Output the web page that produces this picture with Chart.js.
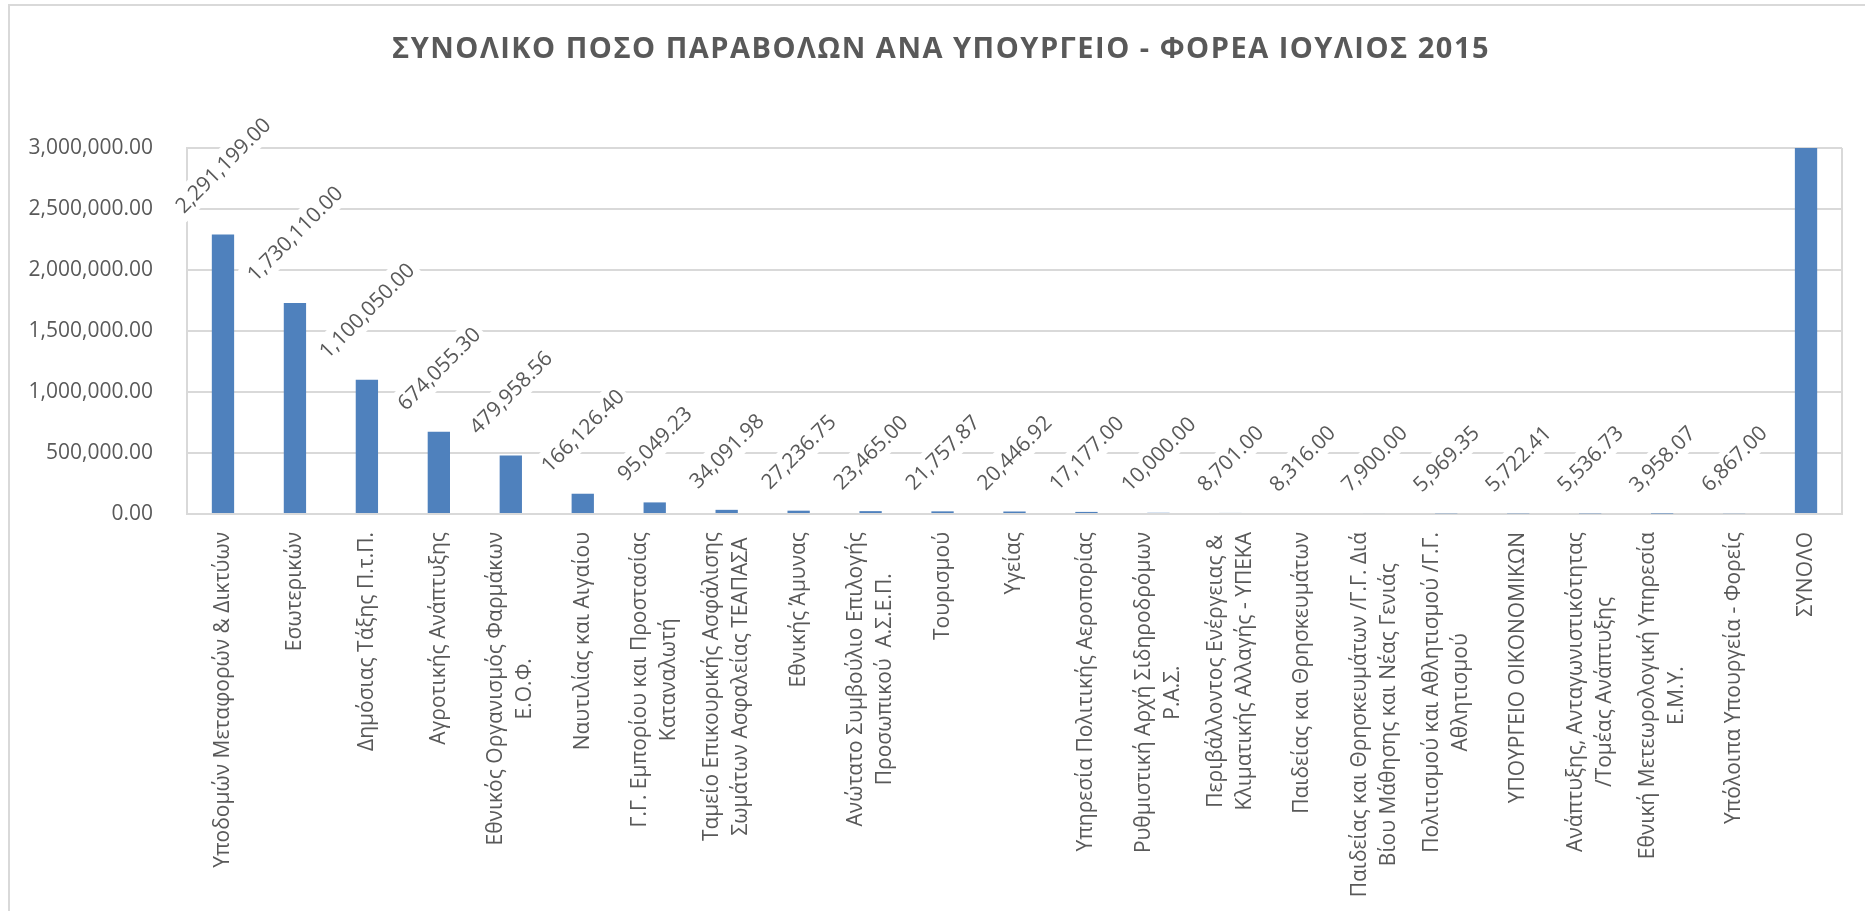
<!DOCTYPE html>
<html><head><meta charset="utf-8">
<script src="https://cdn.jsdelivr.net/npm/chart.js@4.4.0/dist/chart.umd.min.js"></script>
<style>html,body{margin:0;padding:0;background:#fff;overflow:hidden}</style>
</head><body>
<canvas id="c" width="1865" height="911"></canvas>
<script>
const TITLE = "ΣΥΝΟΛΙΚΟ ΠΟΣΟ ΠΑΡΑΒΟΛΩΝ ΑΝΑ ΥΠΟΥΡΓΕΙΟ - ΦΟΡΕΑ ΙΟΥΛΙΟΣ 2015";

const categories = [
  "Υποδομών Μεταφορών & Δικτύων",
  "Εσωτερικών",
  "Δημόσιας Τάξης Π.τ.Π.",
  "Αγροτικής Ανάπτυξης",
  ["Εθνικός Οργανισμός Φαρμάκων", "Ε.Ο.Φ."],
  "Ναυτιλίας και Αιγαίου",
  ["Γ.Γ. Εμπορίου και Προστασίας", "Καταναλωτή"],
  ["Ταμείο Επικουρικής Ασφάλισης", "Σωμάτων Ασφαλείας ΤΕΑΠΑΣΑ"],
  "Εθνικής Άμυνας",
  ["Ανώτατο Συμβούλιο Επιλογής", "Προσωπικού  Α.Σ.Ε.Π."],
  "Τουρισμού",
  "Υγείας",
  "Υπηρεσία Πολιτικής Αεροπορίας",
  ["Ρυθμιστική Αρχή Σιδηροδρόμων", "Ρ.Α.Σ."],
  ["Περιβάλλοντος Ενέργειας &", "Κλιματικής Αλλαγής - ΥΠΕΚΑ"],
  "Παιδείας και Θρησκευμάτων",
  ["Παιδείας και Θρησκευμάτων /Γ.Γ. Διά", "Βίου Μάθησης και Νέας Γενιάς"],
  ["Πολιτισμού και Αθλητισμού /Γ.Γ.", "Αθλητισμού"],
  "ΥΠΟΥΡΓΕΙΟ ΟΙΚΟΝΟΜΙΚΩΝ",
  ["Ανάπτυξης, Ανταγωνιστικότητας", "/Τομέας Ανάπτυξης"],
  ["Εθνική Μετεωρολογική Υπηρεσία", "Ε.Μ.Υ."],
  "Υπόλοιπα Υπουργεία - Φορείς",
  "ΣΥΝΟΛΟ"
];

const values = [
  2291199.00, 1730110.00, 1100050.00, 674055.30, 479958.56, 166126.40,
  95049.23, 34091.98, 27236.75, 23465.00, 21757.87, 20446.92, 17177.00,
  10000.00, 8701.00, 8316.00, 7900.00, 5969.35, 5722.41, 5536.73,
  3958.07, 6867.00, 6743694.57
];

const yTickValues = [0, 500000, 1000000, 1500000, 2000000, 2500000, 3000000];
const yTickLabels = ["0.00", "500,000.00", "1,000,000.00", "1,500,000.00", "2,000,000.00", "2,500,000.00", "3,000,000.00"];

const FONT = "'Open Sans', sans-serif";
const GREY = '#595959';
const LINE = '#d9d9d9';
const fmt = v => v.toLocaleString('en-US', {minimumFractionDigits: 2, maximumFractionDigits: 2});

const deco = {
  id: 'deco',
  beforeDraw(chart) {
    const ctx = chart.ctx;
    ctx.save();
    ctx.fillStyle = '#fff';
    ctx.fillRect(0, 0, chart.width, chart.height);
    ctx.strokeStyle = LINE; ctx.lineWidth = 2;
    ctx.beginPath(); ctx.moveTo(9, chart.height); ctx.lineTo(9, 5); ctx.lineTo(chart.width, 5); ctx.stroke();
    ctx.fillStyle = GREY; ctx.font = `bold 29px ${FONT}`;
    if ('letterSpacing' in ctx) ctx.letterSpacing = '1.5px';
    ctx.textAlign = 'center'; ctx.textBaseline = 'middle';
    ctx.fillText(TITLE, 941, 50);
    ctx.restore();
  },
  beforeDatasetsDraw(chart) {
    const {ctx, chartArea: a} = chart;
    ctx.save(); ctx.strokeStyle = LINE; ctx.lineWidth = 2;
    ctx.beginPath(); ctx.moveTo(a.right, a.top); ctx.lineTo(a.right, a.bottom); ctx.stroke();
    ctx.restore();
  },
  afterDatasetsDraw(chart) {
    const ctx = chart.ctx, meta = chart.getDatasetMeta(0), a = chart.chartArea;
    ctx.save();
    ctx.font = `21px ${FONT}`;
    meta.data.forEach((bar, i) => {
      if (bar.y < a.top) return;
      const txt = fmt(values[i]);
      const w = ctx.measureText(txt).width, h = 29;
      const half = (w + h) * Math.SQRT1_2 / 2;
      const cx = bar.x, cy = bar.y - 15 - half;
      ctx.save(); ctx.translate(cx, cy); ctx.rotate(-Math.PI / 4);
      ctx.fillStyle = '#fff'; ctx.fillRect(-w / 2 - 4, -h / 2, w + 8, h);
      ctx.fillStyle = GREY; ctx.textAlign = 'center'; ctx.textBaseline = 'middle';
      ctx.fillText(txt, 0, 1);
      ctx.restore();
    });
    ctx.restore();
  },
  afterDraw(chart) {
    const ctx = chart.ctx, xs = chart.scales.x, a = chart.chartArea;
    ctx.save();
    ctx.font = `21px ${FONT}`; ctx.fillStyle = GREY;
    ctx.textAlign = 'center'; ctx.textBaseline = 'middle';
    categories.forEach((lab, i) => {
      const lines = Array.isArray(lab) ? lab : [lab];
      const W = Math.max(...lines.map(l => ctx.measureText(l).width));
      const x = xs.getPixelForTick(i), y0 = a.bottom + 18;
      ctx.save(); ctx.translate(x, y0); ctx.rotate(-Math.PI / 2);
      lines.forEach((l, j) => ctx.fillText(l, -W / 2, (j - (lines.length - 1) / 2) * 29));
      ctx.restore();
    });
    ctx.restore();
  }
};

new Chart(document.getElementById('c'), {
  type: 'bar',
  data: {
    labels: categories,
    datasets: [{
      data: values,
      backgroundColor: '#4f81bd',
      borderWidth: 0,
      barPercentage: 0.31,
      categoryPercentage: 1
    }]
  },
  options: {
    responsive: false,
    animation: false,
    layout: {padding: {top: 148, right: 23, left: 0, bottom: 0}},
    plugins: {legend: {display: false}, tooltip: {enabled: false}, title: {display: false}},
    scales: {
      x: {
        grid: {display: false},
        border: {display: true, color: LINE, width: 2},
        ticks: {display: false},
        afterFit(s) { s.height = 397; }
      },
      y: {
        min: 0, max: 3000000,
        afterBuildTicks(s) { s.ticks = yTickValues.map(v => ({value: v})); },
        grid: {color: LINE, lineWidth: 2, drawTicks: false},
        border: {display: true, color: LINE, width: 2},
        ticks: {
          padding: 34, color: GREY, font: {family: FONT, size: 21},
          callback: (v) => yTickLabels[yTickValues.indexOf(v)]
        },
        afterFit(s) { s.width = 187; }
      }
    }
  },
  plugins: [deco]
});
</script>
</body></html>
